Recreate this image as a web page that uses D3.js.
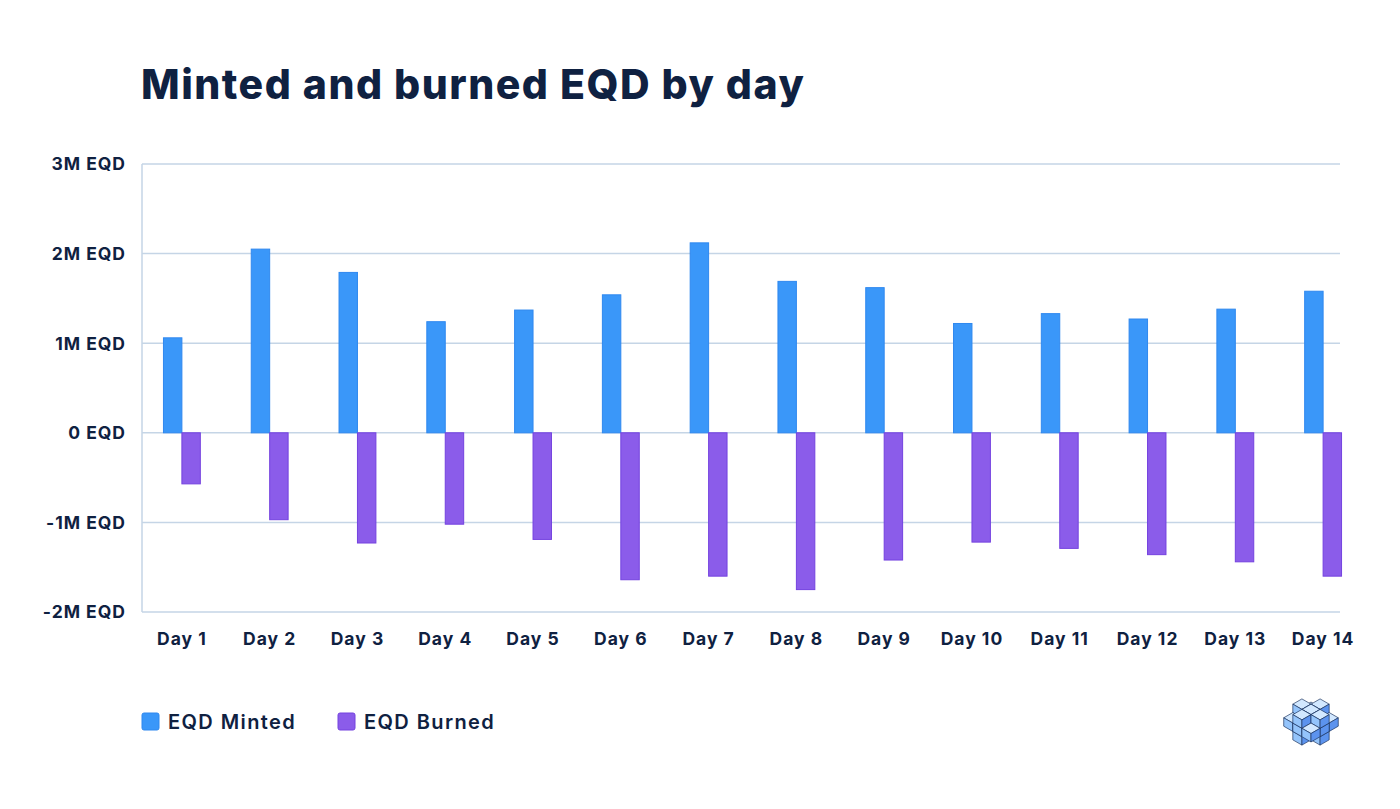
<!DOCTYPE html>
<html>
<head>
<meta charset="utf-8">
<script src="https://cdn.jsdelivr.net/npm/d3@7"></script>
<style>
  body { margin: 0; background: #fff; }
  svg { display: block; }
</style>
</head>
<body>
<div id="chart"></div>
<script>
// data
var days = ["Day 1","Day 2","Day 3","Day 4","Day 5","Day 6","Day 7","Day 8","Day 9","Day 10","Day 11","Day 12","Day 13","Day 14"];
var minted = [1.06, 2.05, 1.79, 1.24, 1.37, 1.54, 2.12, 1.69, 1.62, 1.22, 1.33, 1.27, 1.38, 1.58];
var burned = [-0.57, -0.97, -1.23, -1.02, -1.19, -1.64, -1.60, -1.75, -1.42, -1.22, -1.29, -1.36, -1.44, -1.60];
var yTicks = [-2, -1, 0, 1, 2, 3];
var seriesNames = ["EQD Minted", "EQD Burned"];

var width = 1400, height = 809;
var navy = "#0f2141";
var font = "Inter";
var colors = {fill: ["#3a97f9", "#8b5cea"], stroke: ["#2f88ef", "#7442df"]};

var svg = d3.select("#chart").append("svg")
  .attr("width", width).attr("height", height);

svg.append("text")
  .attr("x", 141).attr("y", 99)
  .attr("font-family", font)
  .attr("font-weight", 800)
  .attr("font-size", 41)
  .attr("letter-spacing", 1.5)
  .attr("fill", navy)
  .text("Minted and burned EQD by day");

var plot = {left: 142, right: 1340, top: 164, bottom: 612};

var y = d3.scaleLinear().domain([-2, 3]).range([plot.bottom, plot.top]);
var x = d3.scaleBand().domain(days).range([138, 1367]).paddingInner(0.58).paddingOuter(0.29);

// grid
svg.append("g").selectAll("line")
  .data(yTicks).enter().append("line")
  .attr("x1", plot.left).attr("x2", plot.right)
  .attr("y1", function(d) { return y(d); })
  .attr("y2", function(d) { return y(d); })
  .attr("stroke", "#c5d5e6").attr("stroke-width", 1.5);

svg.append("line")
  .attr("x1", plot.left).attr("x2", plot.left)
  .attr("y1", plot.top).attr("y2", plot.bottom)
  .attr("stroke", "#c5d5e6").attr("stroke-width", 1.5);

// y labels
svg.append("g").selectAll("text")
  .data(yTicks).enter().append("text")
  .attr("x", 126)
  .attr("y", function(d) { return y(d); })
  .attr("dy", "0.36em")
  .attr("text-anchor", "end")
  .attr("font-family", font)
  .attr("font-weight", 700)
  .attr("font-size", 17.5)
  .attr("letter-spacing", 1)
  .attr("fill", navy)
  .text(function(d) { return d + "M EQD"; });
svg.selectAll("text").filter(function(d) { return d === 0; }).text("0 EQD");

// x labels
svg.append("g").selectAll("text")
  .data(days).enter().append("text")
  .attr("x", function(d) { return x(d) + x.bandwidth() / 2; })
  .attr("y", 645)
  .attr("text-anchor", "middle")
  .attr("font-family", font)
  .attr("font-weight", 700)
  .attr("font-size", 17.5)
  .attr("letter-spacing", 1)
  .attr("fill", navy)
  .text(function(d) { return d; });

// bars
var bw = x.bandwidth() / 2;
svg.append("g").selectAll("rect")
  .data(minted).enter().append("rect")
  .attr("x", function(d, i) { return x(days[i]); })
  .attr("y", function(d) { return y(d); })
  .attr("width", bw)
  .attr("height", function(d) { return y(0) - y(d); })
  .attr("fill", colors.fill[0])
  .attr("stroke", colors.stroke[0]).attr("stroke-width", 1);

svg.append("g").selectAll("rect")
  .data(burned).enter().append("rect")
  .attr("x", function(d, i) { return x(days[i]) + bw; })
  .attr("y", y(0))
  .attr("width", bw)
  .attr("height", function(d) { return y(d) - y(0); })
  .attr("fill", colors.fill[1])
  .attr("stroke", colors.stroke[1]).attr("stroke-width", 1);

// legend
var legend = svg.append("g").selectAll("g")
  .data(seriesNames).enter().append("g")
  .attr("transform", function(d, i) { return "translate(" + (i === 0 ? 142 : 338) + ",713)"; });

legend.append("rect")
  .attr("width", 17).attr("height", 17).attr("rx", 2)
  .attr("fill", function(d, i) { return colors.fill[i]; })
  .attr("stroke", function(d, i) { return colors.stroke[i]; });

legend.append("text")
  .attr("x", 26).attr("y", 16)
  .attr("font-family", font)
  .attr("font-weight", 600)
  .attr("font-size", 20)
  .attr("letter-spacing", 1.4)
  .attr("fill", navy)
  .text(function(d) { return d; });

// logo: 3x3x3 block of cubes without its corners, isometric
var s = 10.5;
var logo = svg.append("g").attr("transform", "translate(1311," + (722 - 0.3 * s) + ")");
function proj(p) { return [(p[0] - p[1]) * s * 0.866, (p[0] + p[1]) * s * 0.5 - p[2] * s * 0.8]; }
var cells = [];
for (var i = 0; i < 3; i++) for (var j = 0; j < 3; j++) for (var k = 0; k < 3; k++) {
  var corner = (i !== 1) && (j !== 1) && (k !== 1);
  if (!corner) cells.push([i, j, k]);
}
cells.sort(function(a, b) { return (a[0] + a[1] + a[2]) - (b[0] + b[1] + b[2]); });
cells.forEach(function(c) {
  var a = c[0], b = c[1], z = c[2];
  var faces = [
    {pts: [[a, b, z + 1], [a + 1, b, z + 1], [a + 1, b + 1, z + 1], [a, b + 1, z + 1]], fill: "#d2e8ff"},
    {pts: [[a, b + 1, z], [a + 1, b + 1, z], [a + 1, b + 1, z + 1], [a, b + 1, z + 1]], fill: "#94c4fb"},
    {pts: [[a + 1, b, z], [a + 1, b + 1, z], [a + 1, b + 1, z + 1], [a + 1, b, z + 1]], fill: "#5c93ee"}
  ];
  faces.forEach(function(f) {
    logo.append("polygon")
      .attr("points", f.pts.map(proj).join(" "))
      .attr("fill", f.fill)
      .attr("stroke", "#1d3560").attr("stroke-width", 0.7).attr("stroke-linejoin", "round");
  });
});
</script>
</body>
</html>
